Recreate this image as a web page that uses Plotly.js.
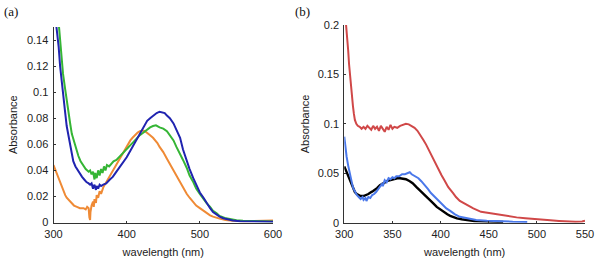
<!DOCTYPE html>
<html>
<head>
<meta charset="utf-8">
<script src="https://cdn.plot.ly/plotly-3.0.1.min.js"></script>
<style>html,body{margin:0;padding:0;background:#fff;}#chart{width:600px;height:261px;}</style>
</head>
<body>
<div id="chart"></div>
<script>
// ---------- Panel (a) ----------
const aBlueWl = [302,304.5,307,309,311,313.6,316,318,320,322.7,325,327,330,332,335,339,342,345,348,350,352,354,356,358,359,361,363,365,368,372,377,381,386,390,395,400,405,410,414,418,423,428,432,436,441,445,448,452,455,459,464,468,473,477,482,486,491,495,500,505,509,514,518,523,527,532,540,545,555,568,580,600];
const aBlue = [0.16,0.149,0.135,0.12,0.108,0.094,0.084,0.074,0.068,0.058,0.052,0.047,0.043,0.041,0.038,0.035,0.033,0.031,0.030,0.029,0.030,0.026,0.029,0.025,0.028,0.026,0.029,0.028,0.029,0.030,0.033,0.035,0.039,0.042,0.046,0.050,0.055,0.060,0.065,0.069,0.074,0.078,0.080,0.082,0.084,0.085,0.0845,0.084,0.082,0.080,0.076,0.071,0.065,0.056,0.047,0.041,0.034,0.029,0.023,0.019,0.015,0.011,0.008,0.006,0.0045,0.0033,0.002,0.0015,0.001,0.0008,0.0006,0.0005];

const aGreenWl = [306,307.5,309,311,313,316,318,320,323,325,328,330,332,334,337,341,344,348,350,352,354,356,357,359,361,363,365,367,369,371,373,376,379,382,386,391,395,400,405,409,414,418,423,427,432,436,440,445,450,455,459,464,468,473,477,482,486,491,495,500,505,509,514,518,523,527,534,541,550,559,575,600];
const aGreen = [0.16,0.15,0.14,0.126,0.114,0.102,0.093,0.085,0.075,0.068,0.062,0.058,0.054,0.051,0.047,0.043,0.041,0.039,0.040,0.037,0.039,0.033,0.038,0.034,0.040,0.036,0.041,0.038,0.043,0.040,0.044,0.043,0.045,0.047,0.048,0.051,0.053,0.056,0.059,0.062,0.065,0.067,0.069,0.071,0.073,0.074,0.0745,0.073,0.072,0.070,0.067,0.063,0.058,0.053,0.048,0.042,0.036,0.031,0.026,0.022,0.018,0.015,0.012,0.009,0.007,0.005,0.0035,0.0025,0.0018,0.0013,0.001,0.0008];

const aOrangeWl = [300,302,304.5,307,309,311,313.6,316,318,321,325,328,332,336,341,344,346,348,349,350,350.5,352,354,355,356,358,359,361,363,365,368,370,373,377,381,384,388,391,395,398,402,405,408,411,415,418,422,425,428,432,436,439,442,445,450,455,459,464,468,473,477,482,486,491,495,500,505,509,514,518,523,527,535,545,560,575,590,600];
const aOrange = [0.044,0.041,0.038,0.034,0.030,0.027,0.024,0.021,0.019,0.017,0.015,0.013,0.012,0.011,0.011,0.010,0.012,0.011,0.004,0.002,0.008,0.013,0.016,0.012,0.018,0.015,0.021,0.019,0.024,0.022,0.027,0.029,0.032,0.035,0.040,0.042,0.046,0.049,0.053,0.057,0.060,0.063,0.065,0.067,0.069,0.070,0.0705,0.070,0.069,0.067,0.065,0.063,0.061,0.058,0.054,0.049,0.045,0.040,0.035,0.031,0.026,0.022,0.019,0.016,0.013,0.011,0.009,0.007,0.0055,0.0045,0.0035,0.003,0.002,0.0013,0.001,0.0012,0.0015,0.0015];

// ---------- Panel (b) ----------
const bRedWl = [301,302,303,304,305,306,307,308,309,310,311,312.5,314,316,318,320,322,324,326,328,330,332,334,336,338,340,342,344,346,348,350,352,355,358,361,364,367,370,373,376,379,382,385,387,390,392,395,398,401,404,408,413,416,420,427,434,442,451,462,470,479,488,496,505,514,523,531,540,547,550];
const bRed = [0.21,0.2,0.19,0.175,0.16,0.148,0.137,0.128,0.118,0.11,0.104,0.1,0.098,0.097,0.095,0.097,0.095,0.098,0.096,0.094,0.098,0.095,0.097,0.093,0.098,0.095,0.092,0.097,0.094,0.099,0.095,0.097,0.096,0.098,0.099,0.1,0.0995,0.098,0.096,0.093,0.089,0.084,0.079,0.075,0.069,0.065,0.060,0.054,0.048,0.043,0.036,0.030,0.026,0.022,0.018,0.0145,0.011,0.0095,0.0078,0.0066,0.0054,0.0045,0.0037,0.003,0.0024,0.0018,0.0013,0.001,0.0012,0.002];

const bBlueWl = [300,301,302.4,304,306,308,309.3,311,313,315,317,319,320,322,323,325,327,329,331,333,335,337,339,340,342,344,346,348,350,352,354,357,360,363,366,368,370,373,377,380,383,387,390,393,397,401,406,410,415,420,427,437,448,462,475,490];
const bBlue = [0.087,0.078,0.067,0.058,0.047,0.040,0.035,0.031,0.028,0.026,0.024,0.026,0.023,0.025,0.022,0.026,0.025,0.028,0.029,0.031,0.034,0.036,0.039,0.037,0.043,0.041,0.045,0.044,0.046,0.045,0.047,0.047,0.049,0.049,0.050,0.051,0.049,0.047,0.045,0.042,0.039,0.034,0.030,0.027,0.023,0.019,0.0145,0.012,0.0085,0.006,0.0044,0.0027,0.002,0.0013,0.001,0.0008];

const bBlackWl = [300,302,304,306,307.6,309,311,313,314.5,317,320,323,325,328,330,334,337,341,344,348,351,355,358,361,364,368,371,375,378,382,386,389,393,396,400,403,407,410,414,417,422,427,435,444,455,465];
const bBlack = [0.057,0.052,0.047,0.042,0.038,0.035,0.031,0.029,0.028,0.027,0.027,0.028,0.029,0.031,0.032,0.035,0.038,0.040,0.042,0.043,0.044,0.045,0.045,0.0445,0.044,0.042,0.040,0.036,0.033,0.030,0.026,0.023,0.019,0.016,0.013,0.011,0.0085,0.007,0.0055,0.0044,0.0035,0.0027,0.0018,0.0013,0.001,0.0008];

// ---------- ticks ----------
const aXTicks = [300,400,500,600];
const aXTickText = ['300','400','500','600'];
const aYTicks = [0,0.02,0.04,0.06,0.08,0.1,0.12,0.14];
const aYTickText = ['0','0.02','0.04','0.06','0.08','0.1','0.12','0.14'];
const bXTicks = [300,350,400,450,500,550];
const bXTickText = ['300','350','400','450','500','550'];
const bYTicks = [0,0.05,0.1,0.15,0.2];
const bYTickText = ['0','0.05','0.1','0.15','0.2'];

const xTitle = 'wavelength (nm)';
const yTitle = 'Absorbance';

function tr(x, y, color, xa, ya, w) {
  return {x: x, y: y, type: 'scatter', mode: 'lines', xaxis: xa, yaxis: ya,
          line: {color: color, width: w || 2}, showlegend: false, hoverinfo: 'skip'};
}

const data = [
  tr(aOrangeWl, aOrange, '#ef8a35', 'x', 'y'),
  tr(aGreenWl, aGreen, '#35b535', 'x', 'y'),
  tr(aBlueWl, aBlue, '#2024b0', 'x', 'y'),
  tr(bBlackWl, bBlack, '#000000', 'x2', 'y2', 2.4),
  tr(bBlueWl, bBlue, '#4a78ea', 'x2', 'y2'),
  tr(bRedWl, bRed, '#d04848', 'x2', 'y2')
];

const tickFont = {family: '"Liberation Sans", Arial, sans-serif', size: 11, color: '#222'};
function axis(extra) {
  return Object.assign({
    showgrid: false, zeroline: false, showline: true, linecolor: '#333', linewidth: 1,
    ticks: 'inside', ticklen: 2, tickwidth: 1, tickcolor: '#333', tickfont: tickFont,
    fixedrange: true, tickmode: 'array'
  }, extra);
}

const layout = {
  width: 600, height: 261,
  margin: {l: 0, r: 0, t: 0, b: 0},
  paper_bgcolor: '#fff', plot_bgcolor: '#fff',
  showlegend: false,
  xaxis: axis({domain: [0.0892, 0.455], range: [300, 600], anchor: 'y',
    tickvals: aXTicks, ticktext: aXTickText, ticklabelstandoff: 1,
    title: {text: xTitle, font: tickFont, standoff: 9}}),
  yaxis: axis({domain: [0.1475, 0.8966], range: [0, 0.15], anchor: 'x',
    tickvals: aYTicks, ticktext: aYTickText, ticklabelstandoff: 2,
    title: {text: yTitle, font: tickFont, standoff: 7}}),
  xaxis2: axis({domain: [0.5738, 0.975], range: [300, 550], anchor: 'y2',
    tickvals: bXTicks, ticktext: bXTickText, ticklabelstandoff: 1,
    title: {text: xTitle, font: tickFont, standoff: 9}}),
  yaxis2: axis({domain: [0.1467, 0.9042], range: [0, 0.2], anchor: 'x2',
    tickvals: bYTicks, ticktext: bYTickText, ticklabelstandoff: 2,
    title: {text: yTitle, font: tickFont, standoff: 5}}),
  annotations: [
    {text: '(a)', xref: 'paper', yref: 'paper', x: 0.003, y: 1 - 12/261, xanchor: 'left', yanchor: 'middle',
     showarrow: false, font: {family: '"Liberation Serif", "Times New Roman", serif', size: 13, color: '#111'}},
    {text: '(b)', xref: 'paper', yref: 'paper', x: 293/600, y: 1 - 12/261, xanchor: 'left', yanchor: 'middle',
     showarrow: false, font: {family: '"Liberation Serif", "Times New Roman", serif', size: 13, color: '#111'}}
  ]
};

Plotly.newPlot('chart', data, layout, {displayModeBar: false, staticPlot: true});
</script>
</body>
</html>
